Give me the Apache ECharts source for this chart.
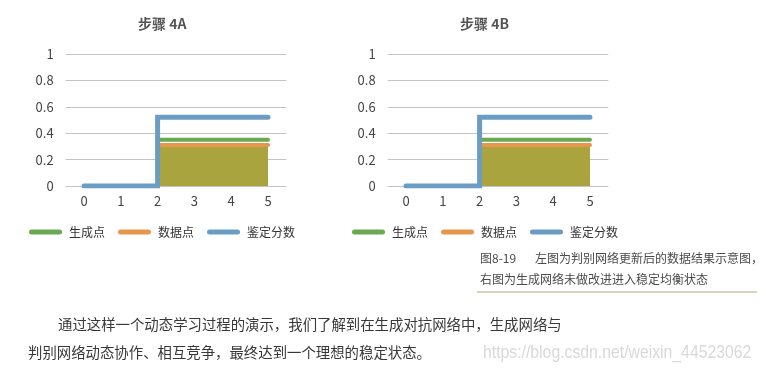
<!DOCTYPE html>
<html>
<head>
<meta charset="utf-8">
<script src="https://cdn.jsdelivr.net/npm/echarts@6/dist/echarts.min.js"></script>
<style>
  html, body { margin: 0; padding: 0; background: #fff; }
  #main { width: 764px; height: 373px; }
</style>
</head>
<body>
<div id="main"></div>
<script>
var steps = ['0', '1', '2', '3', '4', '5'];
var yTicks = [0, 0.2, 0.4, 0.6, 0.8, 1];

// 步骤 4A
var genA = [null, null, 0.35, 0.35, 0.35, 0.35];
var realA = [null, null, 0.31, 0.31, 0.31, 0.31];
var scoreA = [0, 0, 0.52, 0.52, 0.52, 0.52];

// 步骤 4B
var genB = [null, null, 0.35, 0.35, 0.35, 0.35];
var realB = [null, null, 0.31, 0.31, 0.31, 0.31];
var scoreB = [0, 0, 0.52, 0.52, 0.52, 0.52];

var names = ['生成点', '数据点', '鉴定分数'];
var cGen = '#6aa94f', cReal = '#e8964b', cScore = '#6b9dc4', cFill = '#aaa43e';
var font = 'Noto Sans CJK SC';

var myChart = echarts.init(document.getElementById('main'));

function axisX(i) {
  return {
    type: 'category', gridIndex: i, data: steps, boundaryGap: true,
    axisLine: { show: false }, axisTick: { show: false },
    axisLabel: { fontSize: 13, color: '#444', margin: 9 }
  };
}
function axisY(i) {
  return {
    type: 'value', gridIndex: i, min: yTicks[0], max: yTicks[yTicks.length - 1], interval: 0.2,
    axisLine: { show: false }, axisTick: { show: false },
    axisLabel: { fontSize: 13, color: '#444', margin: 12 },
    splitLine: { lineStyle: { color: '#c4c4c4', width: 1 } }
  };
}
function lines(i, gen, real, score) {
  return [
    { name: names[1], type: 'line', xAxisIndex: i, yAxisIndex: i, data: real, symbol: 'none',
      itemStyle: { color: cReal }, lineStyle: { color: cReal, width: 4, cap: 'round' },
      areaStyle: { color: cFill, opacity: 1 } },
    { name: names[0], type: 'line', xAxisIndex: i, yAxisIndex: i, data: gen, symbol: 'none',
      itemStyle: { color: cGen }, lineStyle: { color: cGen, width: 4, cap: 'round' } },
    { name: names[2], type: 'line', xAxisIndex: i, yAxisIndex: i, data: score, symbol: 'none', step: 'end',
      itemStyle: { color: cScore }, lineStyle: { color: cScore, width: 5, cap: 'round', join: 'miter' } }
  ];
}
var pill = 'path://M2.5,0H30.5A2.5,2.5,0,0,1,30.5,5H2.5A2.5,2.5,0,0,1,2.5,0Z';
function legendAt(x) {
  return {
    left: x, top: 226, padding: 0, data: names, icon: pill, itemWidth: 33, itemHeight: 5, itemGap: 13,
    textStyle: { fontSize: 12, color: '#333', padding: [0, 0, 0, 2] }
  };
}
function txt(x, y, s, size, color, fam, sx) {
  return { type: 'text', x: x, y: y, silent: true, scaleX: sx || 1,
    style: { text: s, fill: color, font: size + 'px "' + (fam || font) + '"', verticalAlign: 'middle' } };
}

var option = {
  animation: false,
  textStyle: { fontFamily: font },
  title: [
    { text: '步骤 4A', left: 138, top: 17, padding: 0, textStyle: { fontSize: 14, fontWeight: 'bold', color: '#555' } },
    { text: '步骤 4B', left: 460, top: 17, padding: 0, textStyle: { fontSize: 14, fontWeight: 'bold', color: '#555' } }
  ],
  legend: [legendAt(29), legendAt(352)],
  grid: [
    { left: 65.6, top: 54, width: 220.8, height: 132 },
    { left: 387.6, top: 54, width: 220.8, height: 132 }
  ],
  xAxis: [axisX(0), axisX(1)],
  yAxis: [axisY(0), axisY(1)],
  series: lines(0, genA, realA, scoreA).concat(lines(1, genB, realB, scoreB)),
  graphic: [
    txt(480, 258, '图8-19', 12, '#4a4a4a'),
    txt(535, 258, '左图为判别网络更新后的数据结果示意图，', 12, '#4a4a4a'),
    txt(480, 279, '右图为生成网络未做改进进入稳定均衡状态', 12, '#4a4a4a'),
    { type: 'line', silent: true, shape: { x1: 477, y1: 292, x2: 757, y2: 292 },
      style: { stroke: '#d2c3a2', lineWidth: 1.5 } },
    txt(58, 325, '通过这样一个动态学习过程的演示，我们了解到在生成对抗网络中，生成网络与', 14.4, '#383838'),
    txt(28, 353, '判别网络动态协作、相互竞争，最终达到一个理想的稳定状态。', 14.4, '#383838'),
    txt(483, 353, 'https://blog.csdn.net/weixin_44523062', 19, '#d9d9d9', 'Liberation Sans', 0.83)
  ]
};

myChart.setOption(option);
</script>
</body>
</html>
